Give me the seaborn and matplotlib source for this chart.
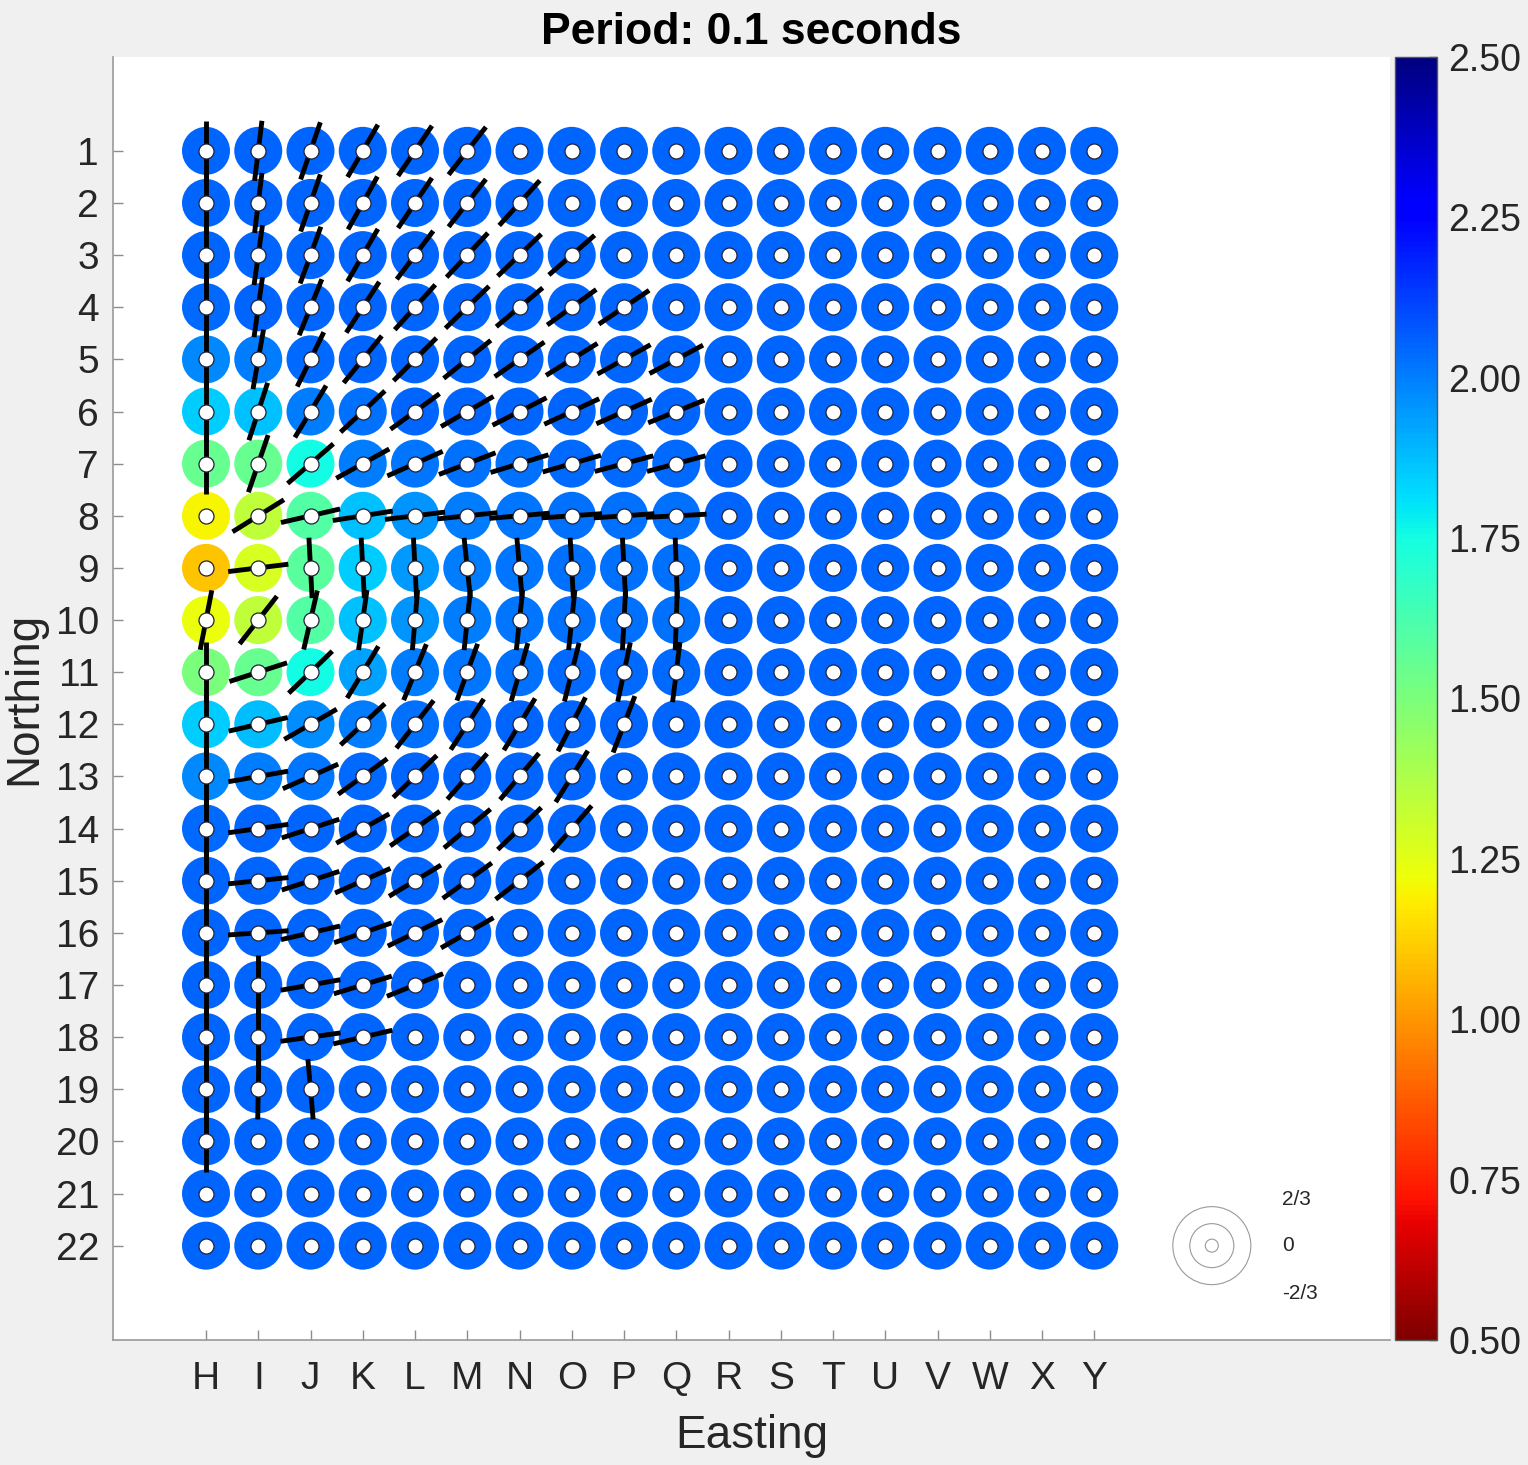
import numpy as np
import pandas as pd
import matplotlib
matplotlib.use('Agg')
import matplotlib.pyplot as plt
import seaborn as sns
from matplotlib import cm, colors

# ---------------- data ----------------
cols = list('HIJKLMNOPQRSTUVWXY')
rows = list(range(1, 23))
cbar_ticks = [0.50, 0.75, 1.00, 1.25, 1.50, 1.75, 2.00, 2.25, 2.50]
legend_labels = ['2/3', '0', '-2/3']

# ring colour value per station (rows 1..22, columns H..Y)
values = [
 [2.05,2.05,2.05,2.05,2.05,2.05,2.05,2.05,2.05,2.05,2.05,2.05,2.05,2.05,2.05,2.05,2.05,2.05],
 [2.05,2.05,2.05,2.05,2.05,2.05,2.05,2.05,2.05,2.05,2.05,2.05,2.05,2.05,2.05,2.05,2.05,2.05],
 [2.05,2.05,2.05,2.05,2.05,2.05,2.05,2.05,2.05,2.05,2.05,2.05,2.05,2.05,2.05,2.05,2.05,2.05],
 [2.04,2.05,2.05,2.05,2.05,2.05,2.05,2.05,2.05,2.05,2.05,2.05,2.05,2.05,2.05,2.05,2.05,2.05],
 [1.98,2.00,2.04,2.05,2.05,2.05,2.05,2.05,2.05,2.05,2.05,2.05,2.05,2.05,2.05,2.05,2.05,2.05],
 [1.85,1.87,2.00,2.03,2.05,2.05,2.05,2.05,2.05,2.05,2.05,2.05,2.05,2.05,2.05,2.05,2.05,2.05],
 [1.55,1.55,1.75,2.00,2.02,2.03,2.03,2.04,2.04,2.04,2.05,2.05,2.05,2.05,2.05,2.05,2.05,2.05],
 [1.20,1.34,1.60,1.87,1.96,2.00,2.02,2.03,2.03,2.03,2.05,2.05,2.05,2.05,2.05,2.05,2.05,2.05],
 [1.10,1.28,1.58,1.85,1.95,2.00,2.02,2.03,2.03,2.03,2.05,2.05,2.05,2.05,2.05,2.05,2.05,2.05],
 [1.23,1.34,1.60,1.87,1.96,2.00,2.02,2.03,2.03,2.03,2.05,2.05,2.05,2.05,2.05,2.05,2.05,2.05],
 [1.50,1.55,1.75,1.93,2.00,2.02,2.03,2.04,2.04,2.04,2.05,2.05,2.05,2.05,2.05,2.05,2.05,2.05],
 [1.85,1.88,1.97,2.00,2.03,2.04,2.05,2.05,2.05,2.05,2.05,2.05,2.05,2.05,2.05,2.05,2.05,2.05],
 [1.98,2.00,2.02,2.04,2.05,2.05,2.05,2.05,2.05,2.05,2.05,2.05,2.05,2.05,2.05,2.05,2.05,2.05],
 [2.04,2.05,2.05,2.05,2.05,2.05,2.05,2.05,2.05,2.05,2.05,2.05,2.05,2.05,2.05,2.05,2.05,2.05],
 [2.05,2.05,2.05,2.05,2.05,2.05,2.05,2.05,2.05,2.05,2.05,2.05,2.05,2.05,2.05,2.05,2.05,2.05],
 [2.05,2.05,2.05,2.05,2.05,2.05,2.05,2.05,2.05,2.05,2.05,2.05,2.05,2.05,2.05,2.05,2.05,2.05],
 [2.05,2.05,2.05,2.05,2.05,2.05,2.05,2.05,2.05,2.05,2.05,2.05,2.05,2.05,2.05,2.05,2.05,2.05],
 [2.05,2.05,2.05,2.05,2.05,2.05,2.05,2.05,2.05,2.05,2.05,2.05,2.05,2.05,2.05,2.05,2.05,2.05],
 [2.05,2.05,2.05,2.05,2.05,2.05,2.05,2.05,2.05,2.05,2.05,2.05,2.05,2.05,2.05,2.05,2.05,2.05],
 [2.05,2.05,2.05,2.05,2.05,2.05,2.05,2.05,2.05,2.05,2.05,2.05,2.05,2.05,2.05,2.05,2.05,2.05],
 [2.05,2.05,2.05,2.05,2.05,2.05,2.05,2.05,2.05,2.05,2.05,2.05,2.05,2.05,2.05,2.05,2.05,2.05],
 [2.05,2.05,2.05,2.05,2.05,2.05,2.05,2.05,2.05,2.05,2.05,2.05,2.05,2.05,2.05,2.05,2.05,2.05],
]

# orientation of the black line at each station (degrees from east, None = no line)
N = None
angles = [
 [90, 83, 71, 60, 56, 52,  N,  N,  N,  N, N,N,N,N,N,N,N,N],
 [90, 83, 71, 61, 56, 52, 48,  N,  N,  N, N,N,N,N,N,N,N,N],
 [90, 82, 70, 60, 53, 47, 44, 41,  N,  N, N,N,N,N,N,N,N,N],
 [90, 82, 68, 57, 48, 44, 40, 36, 34,  N, N,N,N,N,N,N,N,N],
 [90, 80, 64, 51, 45, 39, 35, 32, 29, 28, N,N,N,N,N,N,N,N],
 [90, 72, 59, 43, 36, 30, 27, 25, 24, 22, N,N,N,N,N,N,N,N],
 [90, 71, 41, 29, 24, 21, 17, 16, 15, 15, N,N,N,N,N,N,N,N],
 [ N, 32, 13,  9,  7,  6,  5,  4,  4,  3, N,N,N,N,N,N,N,N],
 [ N,  7, 93, 93, 93, 96, 95, 93, 93, 92, N,N,N,N,N,N,N,N],
 [79, 52, 77, 82, 85, 84, 84, 84, 87, 88, N,N,N,N,N,N,N,N],
 [90, 18, 44, 59, 68, 70, 74, 76, 78, 83, N,N,N,N,N,N,N,N],
 [90, 13, 30, 43, 52, 57, 59, 63, 69,  N, N,N,N,N,N,N,N,N],
 [90, 10, 24, 36, 44, 49, 50, 58,  N,  N, N,N,N,N,N,N,N,N],
 [90,  8, 18, 29, 35, 40, 44, 49,  N,  N, N,N,N,N,N,N,N,N],
 [90,  6, 18, 24, 31, 36, 38,  N,  N,  N, N,N,N,N,N,N,N,N],
 [90,  4, 13, 19, 26, 30,  N,  N,  N,  N, N,N,N,N,N,N,N,N],
 [90, 90, 10, 17, 22,  N,  N,  N,  N,  N, N,N,N,N,N,N,N,N],
 [90, 90,  8, 13,  N,  N,  N,  N,  N,  N, N,N,N,N,N,N,N,N],
 [90, 89, 95,  N,  N,  N,  N,  N,  N,  N, N,N,N,N,N,N,N,N],
 [90,  N,  N,  N,  N,  N,  N,  N,  N,  N, N,N,N,N,N,N,N,N],
 [ N,  N,  N,  N,  N,  N,  N,  N,  N,  N, N,N,N,N,N,N,N,N],
 [ N,  N,  N,  N,  N,  N,  N,  N,  N,  N, N,N,N,N,N,N,N,N],
]

# ---------------- styling ----------------
sns.set_theme(style='white')
plt.rcParams['font.family'] = ['Liberation Sans', 'DejaVu Sans']
TXT = '#262626'

recs = []
for i, r in enumerate(rows):
    for j, c in enumerate(cols):
        recs.append(dict(x=j, y=i, value=values[i][j], angle=angles[i][j]))
df = pd.DataFrame(recs)

W, H = 1528, 1465
fig = plt.figure(figsize=(W / 100, H / 100), dpi=100, facecolor='#f0f0f0')
ax = fig.add_axes([113 / W, 1 - 1340 / H, (1390 - 113) / W, (1340 - 57) / H])
ax.set_facecolor('white')

norm = colors.Normalize(0.5, 2.5)
cmap = plt.get_cmap('jet_r')

px2pt = 72 / 100
ring_d = 48 * px2pt
hole_d = 15 * px2pt

sns.scatterplot(data=df, x='x', y='y', hue='value', palette='jet_r', hue_norm=(0.5, 2.5),
                s=ring_d ** 2, linewidth=0, legend=False, ax=ax, zorder=1)

half = 0.58
for _, rw in df.dropna(subset=['angle']).iterrows():
    a = np.deg2rad(rw['angle'])
    dx, dy = half * np.cos(a), half * np.sin(a)
    ax.plot([rw['x'] - dx, rw['x'] + dx], [rw['y'] + dy, rw['y'] - dy],
            color='black', lw=3.5, solid_capstyle='butt', zorder=2)

sns.scatterplot(data=df, x='x', y='y', color='white', s=hole_d ** 2,
                edgecolor='#22223a', linewidth=0.9, legend=False, ax=ax, zorder=3)

# small reference legend (concentric circles)
lx, ly = 19.25, 21.0
for d in [78, 44, 13]:
    ax.scatter([lx], [ly], s=(d * px2pt) ** 2, facecolor='none',
               edgecolor='#9a9a9a', linewidth=0.8, zorder=3)
for lab, yy in zip(legend_labels, [20.12, 21.0, 21.92]):
    ax.text(20.6, yy, lab, fontsize=15, color=TXT, ha='left', va='center')

ax.set_xlim(-1.78, 22.66)
ax.set_ylim(22.81, -1.80)
ax.set_xticks(range(len(cols)))
ax.set_xticklabels(cols)
ax.set_yticks(range(len(rows)))
ax.set_yticklabels([str(r) for r in rows])
ax.tick_params(axis='both', which='both', direction='in', length=7, width=1,
               color='#8c8c8c', labelsize=28, labelcolor=TXT)
ax.tick_params(axis='x', pad=15, bottom=True)
ax.tick_params(axis='y', pad=10, left=True)
for s in ['top', 'right']:
    ax.spines[s].set_visible(False)
for s in ['left', 'bottom']:
    ax.spines[s].set_color('#9a9a9a')
    ax.spines[s].set_linewidth(1.2)
ax.set_xlabel('Easting', fontsize=33, color=TXT, labelpad=12)
ax.set_ylabel('Northing', fontsize=33, color=TXT, labelpad=7)
ax.set_title('Period: 0.1 seconds', fontsize=32, fontweight='bold', color='black', pad=9)

# colorbar
cax = fig.add_axes([1395 / W, 1 - 1340 / H, 42 / W, (1340 - 57) / H])
sm = cm.ScalarMappable(norm=norm, cmap=cmap)
cb = fig.colorbar(sm, cax=cax)
cb.set_ticks(cbar_ticks)
cb.set_ticklabels(['%.2f' % t for t in cbar_ticks])
cb.ax.tick_params(direction='in', length=6, width=1, color='#555555', labelsize=27,
                  labelcolor=TXT, pad=8)
cb.outline.set_edgecolor('#555555')
cb.outline.set_linewidth(1)

fig.savefig('out.png', dpi=100, facecolor=fig.get_facecolor())
